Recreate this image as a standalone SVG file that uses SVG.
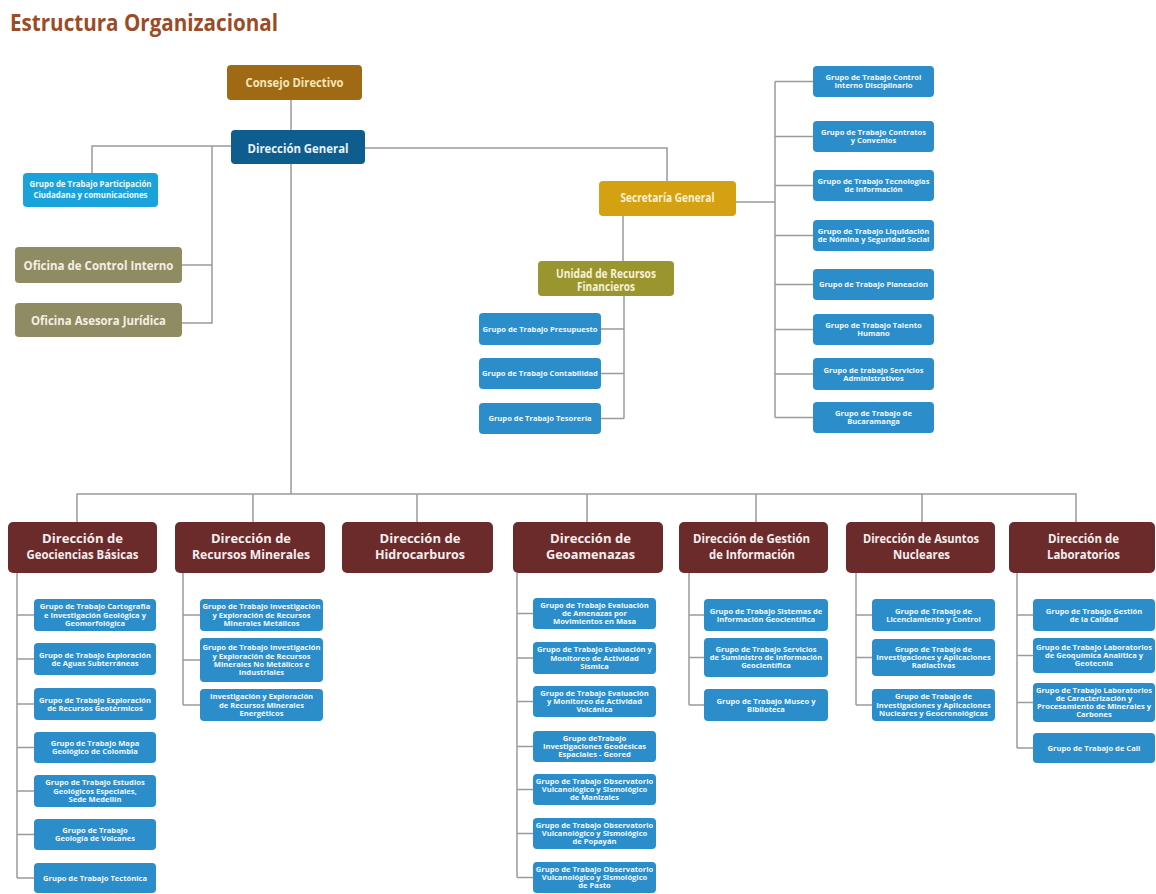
<svg xmlns="http://www.w3.org/2000/svg" width="1156" height="894" viewBox="0 0 1156 894">
<style>
text{font-family:"Open Sans","DejaVu Sans",sans-serif;font-weight:700;text-anchor:middle}
.ln{stroke:#9b9b9b;stroke-width:1.5;fill:none}
.sb{fill:#2b8ecb}
.s{font-size:7.6px;fill:#f3f8fc}
.dir{fill:#6b2b2b}
.dt{font-size:11.5px;fill:#f8eeee}
.ofi{fill:#8f8b62}
.ot{font-size:13px;fill:#f3f0e2}
</style>
<rect width="1156" height="894" fill="#ffffff"/>
<text x="10" y="31" style="text-anchor:start;font-size:23px;fill:#9a4b28" textLength="268" lengthAdjust="spacingAndGlyphs">Estructura Organizacional</text>

<g id="connectors">
<path class="ln" d="M291 100V130M291 164V494M77 522V494H1076V522M253 494V522M417 494V522M587 494V522M756 494V522M922 494V522"/>
<path class="ln" d="M231 146H92V173M212 146V323H182M212 265H182"/>
<path class="ln" d="M365 148H667V181M623 216V261M736 202H775M775 81.5V417.5"/>
<path class="ln" d="M775 81.5H813M775 136.5H813M775 185.5H813M775 235.5H813M775 284.5H813M775 329.5H813M775 374H813M775 417.5H813"/>
<path class="ln" d="M624 296V418.5M624 329H601M624 373.5H601M624 418.5H601"/>
<path class="ln" d="M17 573V878M17 615H34M17 659H34M17 704H34M17 747.5H34M17 791H34M17 834.5H34M17 878H34"/>
<path class="ln" d="M183 573V705M183 615H200M183 660H200M183 705H200"/>
<path class="ln" d="M517 573V877.5M517 613.5H533M517 658H533M517 701.5H533M517 746.5H533M517 789.5H533M517 833.5H533M517 877.5H533"/>
<path class="ln" d="M689 573V705M689 615H704M689 657.5H704M689 705H704"/>
<path class="ln" d="M856 573V705M856 615H872M856 657.5H872M856 705H872"/>
<path class="ln" d="M1017 573V748M1017 615H1033M1017 655.5H1033M1017 702.5H1033M1017 748H1033"/>
</g>

<g id="consejo-directivo"><rect x="227" y="65" width="135" height="35" rx="4" fill="#a06a14"/><text x="294.5" y="87" style="font-size:12.5px;fill:#f5e6b8" textLength="98" lengthAdjust="spacingAndGlyphs">Consejo Directivo</text></g>
<g id="direccion-general"><rect x="231" y="130" width="134" height="34" rx="4" fill="#0d5d8f"/><text x="298" y="153" style="font-size:12.5px;fill:#eaf2f8" textLength="101" lengthAdjust="spacingAndGlyphs">Dirección General</text></g>
<g id="gt-participacion"><rect x="23" y="173" width="135" height="34" rx="4" fill="#1aa3da"/><text x="90.5" y="187" style="font-size:7.9px;fill:#eef8fc">Grupo de Trabajo Participación<tspan x="90.5" dy="11">Ciudadana y comunicaciones</tspan></text></g>
<g id="oficina-control-interno"><rect class="ofi" x="15" y="247" width="167" height="36" rx="4"/><text class="ot" x="98.5" y="270" textLength="150" lengthAdjust="spacingAndGlyphs">Oficina de Control Interno</text></g>
<g id="oficina-asesora-juridica"><rect class="ofi" x="15" y="303" width="167" height="34" rx="4"/><text class="ot" x="98.5" y="325" textLength="135" lengthAdjust="spacingAndGlyphs">Oficina Asesora Jurídica</text></g>
<g id="secretaria-general"><rect x="599" y="181" width="137" height="35" rx="4" fill="#d4a113"/><text x="667.5" y="202" style="font-size:12.5px;fill:#fbf0d2" textLength="94" lengthAdjust="spacingAndGlyphs">Secretaría General</text></g>
<g id="unidad-recursos-financieros"><rect x="538" y="261" width="136" height="35" rx="4" fill="#9b9530"/><text x="606" y="277.5" style="font-size:11.5px;fill:#f6f2d6"><tspan x="606" textLength="100" lengthAdjust="spacingAndGlyphs">Unidad de Recursos</tspan><tspan x="606" dy="13.5" textLength="58" lengthAdjust="spacingAndGlyphs">Financieros</tspan></text></g>

<g id="sg-control-interno"><rect class="sb" x="813" y="66" width="121" height="31" rx="4"/><text class="s" x="873.5" y="80">Grupo de Trabajo Control<tspan x="873.5" dy="8.2">Interno Disciplinario</tspan></text></g>
<g id="sg-contratos"><rect class="sb" x="813" y="121" width="121" height="31" rx="4"/><text class="s" x="873.5" y="135">Grupo de Trabajo Contratos<tspan x="873.5" dy="8.2">y Convenios</tspan></text></g>
<g id="sg-tecnologias"><rect class="sb" x="813" y="170" width="121" height="31" rx="4"/><text class="s" x="873.5" y="184">Grupo de Trabajo Tecnologías<tspan x="873.5" dy="8.2">de Información</tspan></text></g>
<g id="sg-liquidacion"><rect class="sb" x="813" y="220" width="121" height="31" rx="4"/><text class="s" x="873.5" y="234">Grupo de Trabajo Liquidación<tspan x="873.5" dy="8.2">de Nómina y Seguridad Social</tspan></text></g>
<g id="sg-planeacion"><rect class="sb" x="813" y="269" width="121" height="31" rx="4"/><text class="s" x="873.5" y="287.2">Grupo de Trabajo Planeación</text></g>
<g id="sg-talento"><rect class="sb" x="813" y="314" width="121" height="31" rx="4"/><text class="s" x="873.5" y="328">Grupo de Trabajo Talento<tspan x="873.5" dy="8.2">Humano</tspan></text></g>
<g id="sg-servicios"><rect class="sb" x="813" y="358" width="121" height="32" rx="4"/><text class="s" x="873.5" y="372.5">Grupo de trabajo Servicios<tspan x="873.5" dy="8.2">Administrativos</tspan></text></g>
<g id="sg-bucaramanga"><rect class="sb" x="813" y="402" width="121" height="31" rx="4"/><text class="s" x="873.5" y="416">Grupo de Trabajo de<tspan x="873.5" dy="8.2">Bucaramanga</tspan></text></g>

<g id="urf-presupuesto"><rect class="sb" x="479" y="313" width="122" height="32" rx="4"/><text class="s" x="540" y="331.7">Grupo de Trabajo Presupuesto</text></g>
<g id="urf-contabilidad"><rect class="sb" x="479" y="358" width="122" height="31" rx="4"/><text class="s" x="540" y="376.2">Grupo de Trabajo Contabilidad</text></g>
<g id="urf-tesoreria"><rect class="sb" x="479" y="403" width="122" height="31" rx="4"/><text class="s" x="540" y="421.2">Grupo de Trabajo Tesorería</text></g>

<g id="dir-geociencias"><rect class="dir" x="8" y="522" width="149" height="51" rx="5"/><text class="dt" x="82.5" y="543"><tspan x="82.5" textLength="81" lengthAdjust="spacingAndGlyphs">Dirección de</tspan><tspan x="82.5" dy="15.5" textLength="112" lengthAdjust="spacingAndGlyphs">Geociencias Básicas</tspan></text></g>
<g id="dir-recursos-minerales"><rect class="dir" x="175" y="522" width="150" height="51" rx="5"/><text class="dt" x="251" y="543"><tspan x="251" textLength="80" lengthAdjust="spacingAndGlyphs">Dirección de</tspan><tspan x="251" dy="15.5" textLength="118" lengthAdjust="spacingAndGlyphs">Recursos Minerales</tspan></text></g>
<g id="dir-hidrocarburos"><rect class="dir" x="342" y="522" width="151" height="51" rx="5"/><text class="dt" x="420" y="543"><tspan x="420" textLength="81" lengthAdjust="spacingAndGlyphs">Dirección de</tspan><tspan x="420" dy="15.5" textLength="90" lengthAdjust="spacingAndGlyphs">Hidrocarburos</tspan></text></g>
<g id="dir-geoamenazas"><rect class="dir" x="513" y="522" width="150" height="51" rx="5"/><text class="dt" x="590.5" y="543"><tspan x="590.5" textLength="81" lengthAdjust="spacingAndGlyphs">Dirección de</tspan><tspan x="590.5" dy="15.5" textLength="89" lengthAdjust="spacingAndGlyphs">Geoamenazas</tspan></text></g>
<g id="dir-gestion-informacion"><rect class="dir" x="679" y="522" width="149" height="51" rx="5"/><text class="dt" x="751.5" y="543"><tspan x="751.5" textLength="117" lengthAdjust="spacingAndGlyphs">Dirección de Gestión</tspan><tspan x="752" dy="15.5" textLength="86" lengthAdjust="spacingAndGlyphs">de Información</tspan></text></g>
<g id="dir-asuntos-nucleares"><rect class="dir" x="846" y="522" width="149" height="51" rx="5"/><text class="dt" x="921" y="543"><tspan x="921" textLength="116" lengthAdjust="spacingAndGlyphs">Dirección de Asuntos</tspan><tspan x="921.5" dy="15.5" textLength="57" lengthAdjust="spacingAndGlyphs">Nucleares</tspan></text></g>
<g id="dir-laboratorios"><rect class="dir" x="1009" y="522" width="146" height="51" rx="5"/><text class="dt" x="1083.5" y="543"><tspan x="1083.5" textLength="71" lengthAdjust="spacingAndGlyphs">Dirección de</tspan><tspan x="1083.5" dy="15.5" textLength="73" lengthAdjust="spacingAndGlyphs">Laboratorios</tspan></text></g>

<g id="geo-cartografia"><rect class="sb" x="34" y="599" width="122" height="32" rx="4"/><text class="s" x="95" y="609.4">Grupo de Trabajo Cartografía<tspan x="95" dy="8.2">e Investigación Geológica y</tspan><tspan x="95" dy="8.2">Geomorfológica</tspan></text></g>
<g id="geo-aguas"><rect class="sb" x="34" y="643" width="122" height="32" rx="4"/><text class="s" x="95" y="657.5">Grupo de Trabajo Exploración<tspan x="95" dy="8.2">de Aguas Subterráneas</tspan></text></g>
<g id="geo-geotermicos"><rect class="sb" x="34" y="688" width="122" height="32" rx="4"/><text class="s" x="95" y="702.5">Grupo de Trabajo Exploración<tspan x="95" dy="8.2">de Recursos Geotérmicos</tspan></text></g>
<g id="geo-mapa"><rect class="sb" x="34" y="732" width="122" height="31" rx="4"/><text class="s" x="95" y="746">Grupo de Trabajo Mapa<tspan x="95" dy="8.2">Geológico de Colombia</tspan></text></g>
<g id="geo-estudios"><rect class="sb" x="34" y="775" width="122" height="32" rx="4"/><text class="s" x="95" y="785.4">Grupo de Trabajo Estudios<tspan x="95" dy="8.2">Geológicos Especiales,</tspan><tspan x="95" dy="8.2">Sede Medellín</tspan></text></g>
<g id="geo-volcanes"><rect class="sb" x="34" y="819" width="122" height="31" rx="4"/><text class="s" x="95" y="833">Grupo de Trabajo<tspan x="95" dy="8.2">Geología de Volcanes</tspan></text></g>
<g id="geo-tectonica"><rect class="sb" x="34" y="863" width="122" height="30" rx="4"/><text class="s" x="95" y="880.7">Grupo de Trabajo Tectónica</text></g>

<g id="rm-metalicos"><rect class="sb" x="200" y="599" width="123" height="32" rx="4"/><text class="s" x="261.5" y="609.4">Grupo de Trabajo Investigación<tspan x="261.5" dy="8.2">y Exploración de Recursos</tspan><tspan x="261.5" dy="8.2">Minerales Metálicos</tspan></text></g>
<g id="rm-no-metalicos"><rect class="sb" x="200" y="638" width="123" height="44" rx="4"/><text class="s" x="261.5" y="650.3">Grupo de Trabajo Investigación<tspan x="261.5" dy="8.2">y Exploración de Recursos</tspan><tspan x="261.5" dy="8.2">Minerales No Metálicos e</tspan><tspan x="261.5" dy="8.2">Industriales</tspan></text></g>
<g id="rm-energeticos"><rect class="sb" x="200" y="689" width="123" height="32" rx="4"/><text class="s" x="261.5" y="699.4">Investigación y Exploración<tspan x="261.5" dy="8.2">de Recursos Minerales</tspan><tspan x="261.5" dy="8.2">Energéticos</tspan></text></g>

<g id="ga-movimientos"><rect class="sb" x="533" y="598" width="123" height="31" rx="4"/><text class="s" x="594.5" y="607.9">Grupo de Trabajo Evaluación<tspan x="594.5" dy="8.2">de Amenazas por</tspan><tspan x="594.5" dy="8.2">Movimientos en Masa</tspan></text></g>
<g id="ga-sismica"><rect class="sb" x="533" y="642" width="123" height="32" rx="4"/><text class="s" x="594.5" y="652.4">Grupo de Trabajo Evaluación y<tspan x="594.5" dy="8.2">Monitoreo de Actividad</tspan><tspan x="594.5" dy="8.2">Sísmica</tspan></text></g>
<g id="ga-volcanica"><rect class="sb" x="533" y="686" width="123" height="31" rx="4"/><text class="s" x="594.5" y="695.9">Grupo de Trabajo Evaluación<tspan x="594.5" dy="8.2">y Monitoreo de Actividad</tspan><tspan x="594.5" dy="8.2">Volcánica</tspan></text></g>
<g id="ga-geored"><rect class="sb" x="533" y="731" width="123" height="31" rx="4"/><text class="s" x="594.5" y="740.9">Grupo deTrabajo<tspan x="594.5" dy="8.2">Investigaciones Geodésicas</tspan><tspan x="594.5" dy="8.2">Espaciales - Geored</tspan></text></g>
<g id="ga-manizales"><rect class="sb" x="533" y="774" width="123" height="31" rx="4"/><text class="s" x="594.5" y="783.9">Grupo de Trabajo Observatorio<tspan x="594.5" dy="8.2">Vulcanológico y Sismológico</tspan><tspan x="594.5" dy="8.2">de Manizales</tspan></text></g>
<g id="ga-popayan"><rect class="sb" x="533" y="818" width="123" height="31" rx="4"/><text class="s" x="594.5" y="827.9">Grupo de Trabajo Observatorio<tspan x="594.5" dy="8.2">Vulcanológico y Sismológico</tspan><tspan x="594.5" dy="8.2">de Popayán</tspan></text></g>
<g id="ga-pasto"><rect class="sb" x="533" y="862" width="123" height="31" rx="4"/><text class="s" x="594.5" y="871.9">Grupo de Trabajo Observatorio<tspan x="594.5" dy="8.2">Vulcanológico y Sismológico</tspan><tspan x="594.5" dy="8.2">de Pasto</tspan></text></g>

<g id="gi-sistemas"><rect class="sb" x="704" y="599" width="124" height="32" rx="4"/><text class="s" x="766" y="613.5">Grupo de Trabajo Sistemas de<tspan x="766" dy="8.2">Información Geocientífica</tspan></text></g>
<g id="gi-suministro"><rect class="sb" x="704" y="638" width="124" height="39" rx="4"/><text class="s" x="766" y="651.9">Grupo de Trabajo Servicios<tspan x="766" dy="8.2">de Suministro de Información</tspan><tspan x="766" dy="8.2">Geocientífica</tspan></text></g>
<g id="gi-museo"><rect class="sb" x="704" y="689" width="124" height="32" rx="4"/><text class="s" x="766" y="703.5">Grupo de Trabajo Museo y<tspan x="766" dy="8.2">Biblioteca</tspan></text></g>

<g id="an-licenciamiento"><rect class="sb" x="872" y="599" width="123" height="32" rx="4"/><text class="s" x="933.5" y="613.5">Grupo de Trabajo de<tspan x="933.5" dy="8.2">Licenciamiento y Control</tspan></text></g>
<g id="an-radiactivas"><rect class="sb" x="872" y="639" width="123" height="37" rx="4"/><text class="s" x="933.5" y="651.9">Grupo de Trabajo de<tspan x="933.5" dy="8.2">Investigaciones y Aplicaciones</tspan><tspan x="933.5" dy="8.2">Radiactivas</tspan></text></g>
<g id="an-nucleares"><rect class="sb" x="872" y="689" width="123" height="32" rx="4"/><text class="s" x="933.5" y="699.4">Grupo de Trabajo de<tspan x="933.5" dy="8.2">Investigaciones y Aplicaciones</tspan><tspan x="933.5" dy="8.2">Nucleares y Geocronológicas</tspan></text></g>

<g id="lab-calidad"><rect class="sb" x="1033" y="599" width="122" height="32" rx="4"/><text class="s" x="1094" y="613.5">Grupo de Trabajo Gestión<tspan x="1094" dy="8.2">de la Calidad</tspan></text></g>
<g id="lab-geoquimica"><rect class="sb" x="1033" y="638" width="122" height="35" rx="4"/><text class="s" x="1094" y="649.9">Grupo de Trabajo Laboratorios<tspan x="1094" dy="8.2">de Geoquímica Analítica y</tspan><tspan x="1094" dy="8.2">Geotecnia</tspan></text></g>
<g id="lab-caracterizacion"><rect class="sb" x="1033" y="683" width="122" height="39" rx="4"/><text class="s" x="1094" y="692.8">Grupo de Trabajo Laboratorios<tspan x="1094" dy="8.2">de Caracterización y</tspan><tspan x="1094" dy="8.2">Procesamiento de Minerales y</tspan><tspan x="1094" dy="8.2">Carbones</tspan></text></g>
<g id="lab-cali"><rect class="sb" x="1033" y="733" width="122" height="30" rx="4"/><text class="s" x="1094" y="750.7">Grupo de Trabajo de Cali</text></g>
</svg>
